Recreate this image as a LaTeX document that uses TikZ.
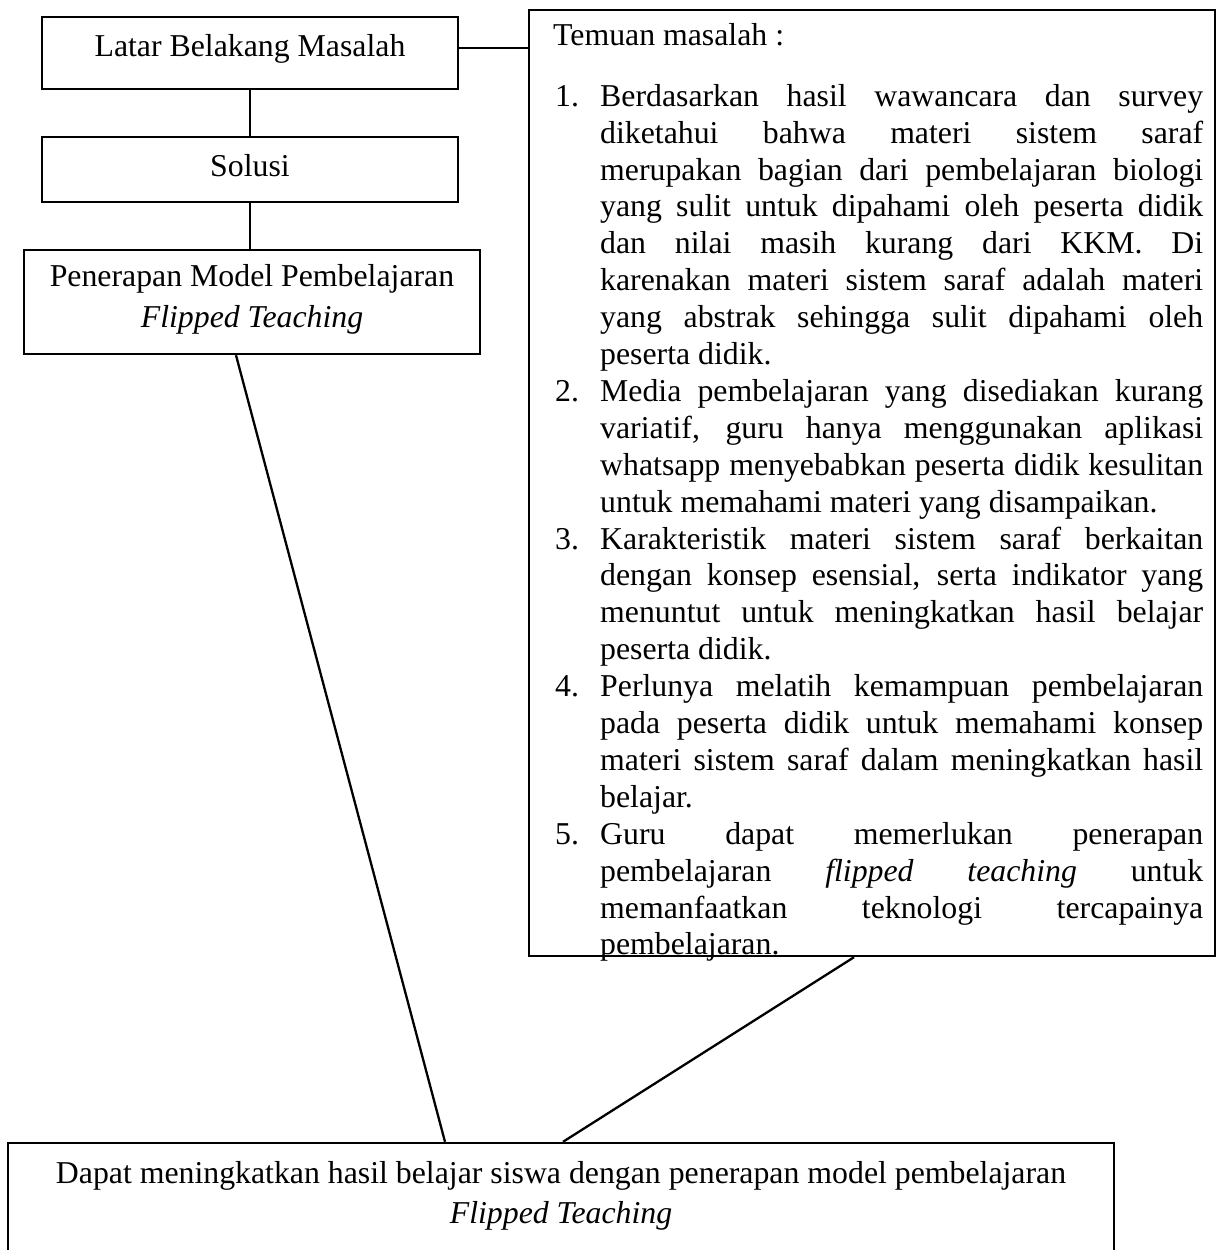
\documentclass[tikz,border=0pt]{standalone}
\usepackage{fontspec}
\setmainfont{Liberation Serif}
\usetikzlibrary{calc}
\newcommand{\fs}{\fontsize{31.8}{36.9}\selectfont}
\newcommand{\fsb}{\fontsize{31.8}{40.5}\selectfont}
\newcommand{\itm}[1]{\noindent\hangindent=47pt\hangafter=1\hspace*{2pt}\makebox[45pt][l]{#1}}
\begin{document}
\begin{tikzpicture}[x=1pt,y=-1pt]
\tikzset{
  box/.style={draw, line width=2.4pt, inner sep=0pt},
  conn/.style={line width=2.3pt},
  txt/.style={inner sep=0pt, font=\fs},
  txtb/.style={inner sep=0pt, font=\fsb, align=center},
}
\useasboundingbox (0,0) rectangle (1223,1250);
\clip (0,0) rectangle (1223,1250);
\fill[white] (0,0) rectangle (1223,1250);

% left column boxes
\node[box, minimum width=416, minimum height=72] (b1) at (250,53) {};
\node[txt, anchor=base] (t1) at (250,56) {Latar Belakang Masalah};
\node[box, minimum width=416, minimum height=65] (b2) at (250,169.5) {};
\node[txt, anchor=base] (t2) at (250,176) {Solusi};
\node[box, minimum width=456, minimum height=104] (b3) at (252,302) {};
\node[txtb, anchor=north] (t3) at (252,264.5) {Penerapan Model Pembelajaran\\\textit{Flipped Teaching}};

% right box
\node[box, minimum width=686, minimum height=946] (rb) at (872,483) {};
\node[txt, anchor=north west, text width=650pt, align=justify] (rbt) at (553,23) {%
\tolerance=10000\hbadness=10000\hyphenpenalty=10000\exhyphenpenalty=10000
\noindent Temuan masalah :\par\vspace{24.1pt}
\itm{1.}Berdasarkan hasil wawancara dan survey\linebreak
diketahui bahwa materi sistem saraf\linebreak
merupakan bagian dari pembelajaran biologi\linebreak
yang sulit untuk dipahami oleh peserta didik\linebreak
dan nilai masih kurang dari KKM. Di\linebreak
karenakan materi sistem saraf adalah materi\linebreak
yang abstrak sehingga sulit dipahami oleh\linebreak
peserta didik.\par
\itm{2.}Media pembelajaran yang disediakan kurang\linebreak
variatif, guru hanya menggunakan aplikasi\linebreak
whatsapp menyebabkan peserta didik kesulitan\linebreak
untuk memahami materi yang disampaikan.\par
\itm{3.}Karakteristik materi sistem saraf berkaitan\linebreak
dengan konsep esensial, serta indikator yang\linebreak
menuntut untuk meningkatkan hasil belajar\linebreak
peserta didik.\par
\itm{4.}Perlunya melatih kemampuan pembelajaran\linebreak
pada peserta didik untuk memahami konsep\linebreak
materi sistem saraf dalam meningkatkan hasil\linebreak
belajar.\par
\itm{5.}Guru dapat memerlukan penerapan\linebreak
pembelajaran \textit{flipped teaching} untuk\linebreak
memanfaatkan teknologi tercapainya\linebreak
pembelajaran.\par};

% bottom box
\node[box, minimum width=1106, minimum height=200] (bot) at (561,1243) {};
\node[txtb, anchor=north] (bott) at (561,1161) {Dapat meningkatkan hasil belajar siswa dengan penerapan model pembelajaran\\\textit{Flipped Teaching}};

% connectors
\draw[conn] (b1.south) -- (b1.south |- b2.north);
\draw[conn] (b2.south) -- (b2.south |- b3.north);
\draw[conn] ([yshift=5pt]b1.east) -- ([yshift=5pt]b1.east -| rb.west);
\draw[conn] ([xshift=-16pt]b3.south) -- ([xshift=-116pt]bot.north);
\draw[conn] ([xshift=-18pt]rb.south) -- ([xshift=2pt]bot.north);
\end{tikzpicture}
\end{document}
